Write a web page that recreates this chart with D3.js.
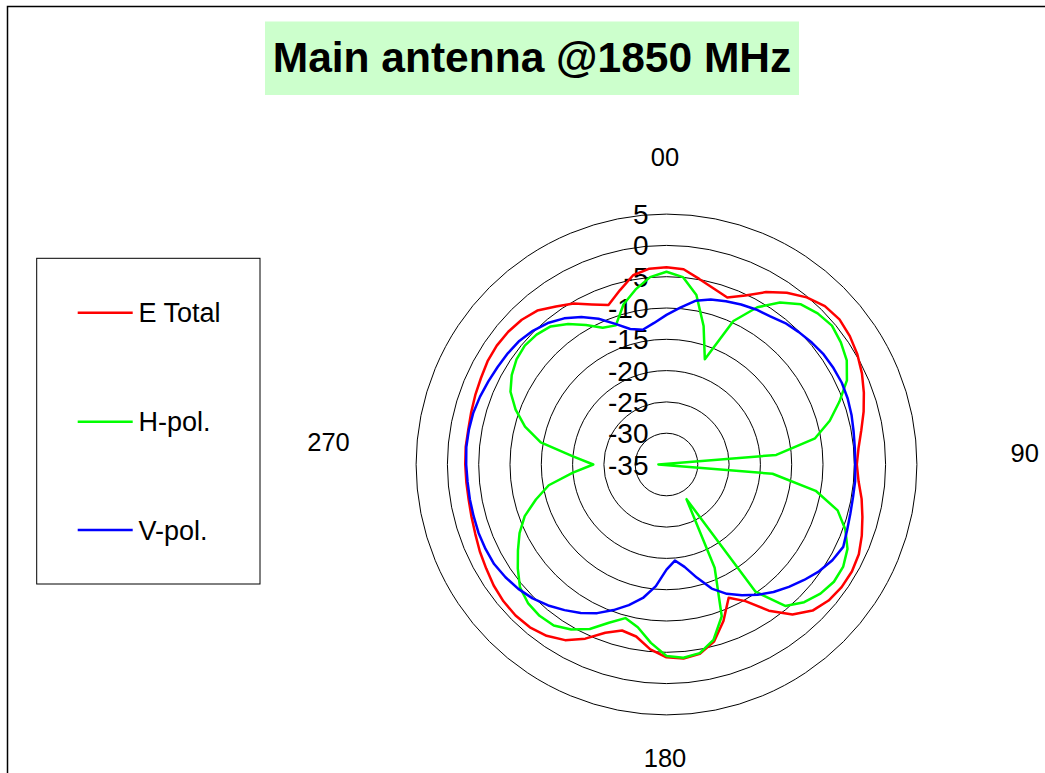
<!DOCTYPE html>
<html>
<head>
<meta charset="utf-8">
<script src="https://cdn.jsdelivr.net/npm/d3@7"></script>
<style>
  html, body { margin: 0; padding: 0; background: #fff; }
  svg { display: block; font-family: "Liberation Sans", Arial, sans-serif; }
</style>
</head>
<body>
<svg id="chart" width="1045" height="773"></svg>
<script>
// ---------------- DATA ----------------
const title = "Main antenna @1850 MHz";
const angles = [0,5,10,15,20,25,30,35,40,45,50,55,60,65,70,75,80,85,90,95,100,105,110,115,
  120,125,130,135,140,145,150,155,160,165,170,175,180,185,190,195,200,205,210,215,220,225,230,235,
  240,245,250,255,260,265,270,275,280,285,290,295,300,305,310,315,320,325,330,335,340,345,350,355];

const eTotal = [-3.5,-3.7,-4.9,-5.9,-6.6,-5.2,-3.2,-1.5,-0.15,0.78,1.07,0.75,0.2,-0.55,-1.45,-2.4,-3.4,-4.2,
  -4.6,-4.2,-3.35,-2.6,-1.8,-1.1,-0.8,-0.85,-1.2,-2.0,-3.7,-6.5,-9.8,-11.5,-8.4,-5.7,-4.3,-3.9,
  -4.2,-5.35,-7.1,-7.55,-6.4,-4.3,-2.6,-1.6,-1.05,-0.9,-1.0,-1.3,-1.75,-2.1,-2.5,-2.75,-2.9,-2.9,
  -2.85,-2.8,-2.85,-2.7,-2.5,-2.3,-2.0,-1.9,-2.0,-2.3,-2.9,-4.2,-5.3,-6.8,-7.9,-6.2,-4.3,-3.6];

const hPol = [-4.2,-4.95,-7.5,-12.1,-17.1,-9.7,-6.0,-3.4,-1.6,-0.85,-0.5,-1.0,-1.75,-3.2,-5.6,-8.0,-10.9,-17.4,
  -36.3,-18.0,-10.8,-6.7,-4.6,-3.1,-2.4,-2.35,-2.9,-3.9,-5.5,-10.2,-28.6,-16.8,-9.2,-6.0,-4.4,-4.0,
  -4.4,-6.4,-8.6,-9.6,-8.1,-6.0,-4.55,-3.6,-3.45,-3.7,-4.45,-6.0,-7.6,-9.1,-10.9,-13.4,-15.9,-20.0,
  -23.3,-20.0,-14.6,-11.6,-9.35,-7.5,-6.45,-5.75,-5.45,-5.65,-6.2,-7.6,-9.25,-10.9,-11.35,-8.5,-6.6,-4.95];

const vPol = [-11.1,-9.85,-8.45,-7.7,-7.25,-6.8,-6.4,-6.1,-5.5,-5.1,-4.7,-4.35,-4.2,-4.1,-4.2,-4.4,-4.65,-4.8,
  -4.85,-4.75,-4.75,-4.6,-4.3,-3.85,-4.4,-5.25,-6.3,-7.35,-8.4,-9.6,-10.9,-12.2,-13.9,-16.3,-18.4,-19.6,
  -18.2,-15.5,-13.35,-11.75,-10.25,-8.8,-7.6,-6.6,-5.6,-4.75,-4.1,-3.6,-3.2,-3.1,-3.05,-3.1,-3.1,-3.1,
  -3.0,-2.9,-2.95,-3.05,-3.3,-3.6,-3.85,-4.05,-4.3,-4.8,-5.5,-6.5,-7.8,-9.3,-11.1,-12.6,-13.15,-12.3];

const seriesNames = ["E Total", "H-pol.", "V-pol."];
const seriesColors = ["#ff0000", "#00ff00", "#0000ff"];
const tickValues = [5, 0, -5, -10, -15, -20, -25, -30, -35];
const categoryLabels = ["00", "90", "180", "270"];
const categoryAngles = [0, 90, 180, 270];

// ---------------- LAYOUT ----------------
const svg = d3.select("#chart");
const cx = 666.5, cy = 464.5, R = 250.4;
const rScale = d3.scaleLinear().domain([-35, 5]).range([0, R]);
// label placement (distance from centre, per category label, plus vertical shift)
const catLayout = [
  {dist: 307.3, shift: 0},
  {dist: 359.7, shift: -11.2},
  {dist: 293.3, shift: 0},
  {dist: 336.5, shift: -22.5}
];

// outer frame
svg.append("rect")
  .attr("x", 7.5).attr("y", 6.5).attr("width", 1200).attr("height", 1000)
  .attr("fill", "none").attr("stroke", "#000").attr("stroke-width", 1.5);

// title
svg.append("rect")
  .attr("x", 265).attr("y", 21.5).attr("width", 534).attr("height", 73.5)
  .attr("fill", "#ccffcc");
svg.append("text")
  .attr("x", 532).attr("y", 71.5)
  .attr("text-anchor", "middle")
  .attr("font-size", 42.5).attr("font-weight", "bold")
  .attr("fill", "#000")
  .text(title);

const plot = svg.append("g").attr("transform", `translate(${cx},${cy})`);

// grid circles
plot.selectAll("circle.grid")
  .data(tickValues.filter(t => rScale(t) > 0))
  .join("circle")
  .attr("class", "grid")
  .attr("r", d => rScale(d))
  .attr("fill", "none")
  .attr("stroke", "#000")
  .attr("stroke-width", 1);

// value labels
plot.selectAll("text.tick")
  .data(tickValues)
  .join("text")
  .attr("class", "tick")
  .attr("x", -18)
  .attr("y", d => -rScale(d))
  .attr("dy", "0.36em")
  .attr("text-anchor", "end")
  .attr("font-size", 28)
  .attr("fill", "#000")
  .text(d => d);

// category labels
plot.selectAll("text.cat")
  .data(categoryLabels.map((l, i) => ({l, a: categoryAngles[i], lay: catLayout[i]})))
  .join("text")
  .attr("class", "cat")
  .attr("x", d => d.lay.dist * Math.sin(d.a * Math.PI / 180) - 1.5)
  .attr("y", d => -d.lay.dist * Math.cos(d.a * Math.PI / 180) + d.lay.shift)
  .attr("dy", "0.36em")
  .attr("text-anchor", "middle")
  .attr("font-size", 25.5)
  .attr("fill", "#000")
  .text(d => d.l);

// series
const allSeries = [eTotal, hPol, vPol];
const line = d3.lineRadial()
  .angle(d => d.a * Math.PI / 180)
  .radius(d => rScale(d.v))
  .curve(d3.curveLinearClosed);

plot.selectAll("path.series")
  .data(allSeries.map((vals, i) => ({vals: vals.map((v, j) => ({a: angles[j], v})), i})))
  .join("path")
  .attr("class", "series")
  .attr("d", d => line(d.vals))
  .attr("fill", "none")
  .attr("stroke", d => seriesColors[d.i])
  .attr("stroke-width", 2.5)
  .attr("stroke-linejoin", "round");

// legend
const lg = svg.append("g");
lg.append("rect")
  .attr("x", 36.7).attr("y", 258.3).attr("width", 223.3).attr("height", 325.7)
  .attr("fill", "#fff").attr("stroke", "#000").attr("stroke-width", 1);
const legendY = [312.7, 421.7, 530];
seriesNames.forEach((name, i) => {
  lg.append("line")
    .attr("x1", 77.7).attr("x2", 132.7)
    .attr("y1", legendY[i]).attr("y2", legendY[i])
    .attr("stroke", seriesColors[i]).attr("stroke-width", 2.5);
  lg.append("text")
    .attr("x", 138.5).attr("y", legendY[i])
    .attr("dy", "0.36em")
    .attr("font-size", 27)
    .attr("fill", "#000")
    .text(name);
});
</script>
</body>
</html>
